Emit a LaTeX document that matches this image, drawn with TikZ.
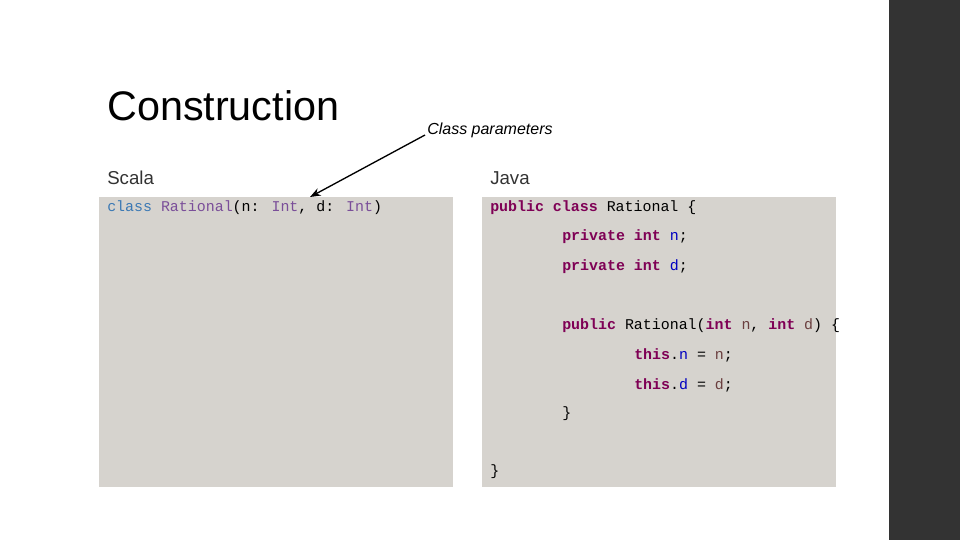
\documentclass[tikz,border=0pt]{standalone}
\usepackage{fontspec}
\setmainfont{Liberation Sans}
\newfontfamily\codefont{Liberation Mono}
\usetikzlibrary{arrows.meta}
\definecolor{boxbg}{HTML}{D6D3CE}
\definecolor{bar}{HTML}{333333}
\definecolor{kwb}{HTML}{3A78B4}
\definecolor{kwp}{HTML}{7A4E99}
\definecolor{jkw}{HTML}{7F0055}
\definecolor{jfld}{HTML}{0000C0}
\definecolor{jpar}{HTML}{6A3E3E}
\begin{document}
\begin{tikzpicture}[x=0.75pt,y=-0.75pt,
  code/.style={anchor=west,inner sep=0pt,font=\codefont\fontsize{11.2}{13}\selectfont},
  head/.style={anchor=west,inner sep=0pt,font=\fontsize{14}{16}\selectfont,text=black!80}]
\useasboundingbox (0,0) rectangle (960,540);
\fill[white] (0,0) rectangle (960,540);
\fill[bar] (889,0) rectangle (960,540);
\fill[boxbg] (99,197) rectangle (453,487);
\fill[boxbg] (482,197) rectangle (836,487);
\node[anchor=west,inner sep=0pt,font=\fontsize{31}{34}\selectfont] (title) at (107,106) {Construction};
\node[head] (scala) at (107,178) {Scala};
\node[head] (java) at (490,178) {Java};
\node[anchor=west,inner sep=0pt,font=\itshape\fontsize{12}{14}\selectfont] (cp) at (427,130) {Class parameters};
\node[code] (s1) at (107,208) {\textcolor{kwb}{class} \textcolor{kwp}{Rational}(n: \textcolor{kwp}{Int}, d: \textcolor{kwp}{Int})};
\node[code] (j1) at (490,208) {\textcolor{jkw}{\bfseries public class} Rational \{};
\node[code] (j2) at (562,237) {\textcolor{jkw}{\bfseries private int} \textcolor{jfld}{n};};
\node[code] (j3) at (562,267) {\textcolor{jkw}{\bfseries private int} \textcolor{jfld}{d};};
\node[code] (j4) at (562,326) {\textcolor{jkw}{\bfseries public} Rational(\textcolor{jkw}{\bfseries int} \textcolor{jpar}{n}, \textcolor{jkw}{\bfseries int} \textcolor{jpar}{d}) \{};
\node[code] (j5) at (634,355) {\textcolor{jkw}{\bfseries this}.\textcolor{jfld}{n} = \textcolor{jpar}{n};};
\node[code] (j6) at (634,385) {\textcolor{jkw}{\bfseries this}.\textcolor{jfld}{d} = \textcolor{jpar}{d};};
\node[code] (j7) at (562,414) {\}};
\node[code] (j8) at (490,472) {\}};
\coordinate (tip) at (310,197);
\draw[line width=1pt,-{Stealth[length=8pt,width=6pt]}] (cp.west) ++(-2,5) -- (tip);
\end{tikzpicture}
\end{document}
